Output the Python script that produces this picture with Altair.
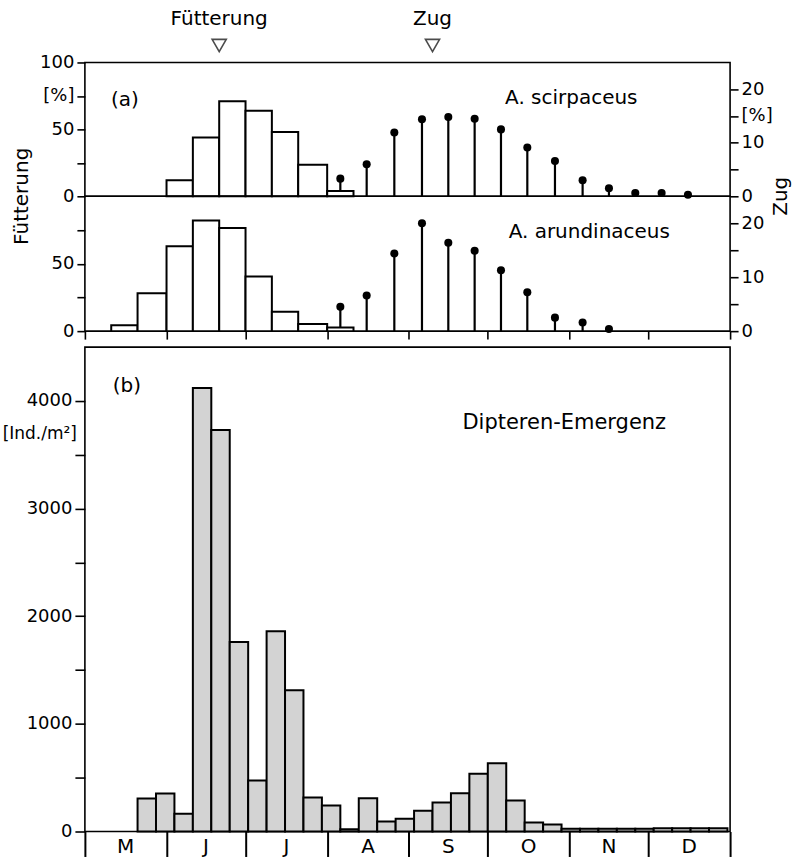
import altair as alt
import pandas as pd

FONT = "DejaVu Sans"

# ---------------- data ----------------
month_labels = ["M", "J", "J", "A", "S", "O", "N", "D"]
month_lengths = [31, 30, 31, 31, 30, 31, 30, 31]

# 10-day periods (Dekaden) May d1 ... Dec d3 (24 periods)
feed_scirpaceus = [0, 0, 0, 12, 44, 71, 64, 48, 23.5, 4] + [0] * 14
feed_arundinaceus = [0, 4.4, 28, 63, 82, 76.5, 40.6, 14.3, 5.2, 2.7] + [0] * 14
zug_scirpaceus = [None] * 9 + [3.3, 6.0, 11.9, 14.4, 14.8, 14.5, 12.5, 9.1, 6.6,
                               3.0, 1.5, 0.6, 0.6, 0.3] + [None]
zug_arundinaceus = [None] * 9 + [4.5, 6.6, 14.4, 20.0, 16.4, 14.9, 11.3, 7.2, 2.5,
                                 1.6, 0.4] + [None] * 4

# weekly Diptera emergence [Ind./m2], weeks starting 21 May
emergence_first_week = "1985-05-21"
emergence = [306, 353, 166, 4120, 3730, 1760, 474, 1860, 1312, 316,
             242, 20, 310, 93, 118, 193, 270, 356, 537, 635,
             288, 84, 65, 25, 25, 25, 25, 25, 30, 30, 30, 30]

marker_labels = ["Fütterung", "Zug"]
marker_dates = ["1985-06-21", "1985-09-10"]

# ---------------- derived tables ----------------
origin = pd.Timestamp("1985-05-01")
month_start = [0]
for n in month_lengths:
    month_start.append(month_start[-1] + n)
total_days = month_start[-1]

dec_rows = []
for m in range(8):
    for k in range(3):
        s = month_start[m] + 10 * k
        e = month_start[m] + 10 * (k + 1) if k < 2 else month_start[m + 1]
        dec_rows.append((s, e, (s + e) / 2))
dec = pd.DataFrame(dec_rows, columns=["start", "end", "mid"])

def feed_df(vals):
    d = dec.copy()
    d["v"] = vals
    return d[d["v"] > 0]

def zug_df(vals):
    d = dec.copy()
    d["z"] = vals
    return d.dropna(subset=["z"])

wk = pd.date_range(emergence_first_week, periods=len(emergence), freq="7D")
emg = pd.DataFrame({
    "start": [(d - origin).days for d in wk],
    "end": [(d - origin).days + 7 for d in wk],
    "n": emergence,
})

months = pd.DataFrame({
    "mid": [(month_start[i] + month_start[i + 1]) / 2 for i in range(8)],
    "m": month_labels,
})
markers = pd.DataFrame({
    "day": [(pd.Timestamp(d) - origin).days for d in marker_dates],
    "lab": marker_labels,
})

# ---------------- panels ----------------
W = 646
H1, H2, H3 = 134, 135, 485
xs = alt.Scale(domain=[0, total_days], nice=False, zero=False)

def txt(text, x, y, size=20, align="center", angle=0):
    return alt.Chart(pd.DataFrame({"t": [text]})).mark_text(
        font=FONT, fontSize=size, align=align, baseline="middle", angle=angle,
        color="black"
    ).encode(text="t:N", x=alt.value(x), y=alt.value(y))

def panel(feed, zug, name, height, xaxis, left_vals, top=False):
    fd = feed_df(feed)
    zd = zug_df(zug)
    if top:
        lexpr = "datum.value == 75 ? '[%]' : (datum.value % 50 == 0 ? datum.label : '')"
        rexpr = "datum.value == 15 ? '[%]' : (datum.value % 10 == 0 ? datum.label : '')"
    else:
        lexpr = "datum.value % 50 == 0 ? datum.label : ''"
        rexpr = "datum.value % 10 == 0 ? datum.label : ''"
    left_axis = alt.Axis(orient="left", values=left_vals, title=None, domain=False,
                         tickSize=8, labelPadding=3, labelExpr=lexpr)
    right_axis = alt.Axis(orient="right", values=[0, 5, 10, 15, 20], title=None,
                          domain=False, tickSize=8, labelPadding=3, labelExpr=rexpr)
    zscale = alt.Scale(domain=[0, 25], nice=False, zero=True)
    fscale = alt.Scale(domain=[0, 100], nice=False, zero=True)
    stems = alt.Chart(zd).mark_rule(color="black", strokeWidth=2.2).encode(
        x=alt.X("mid:Q", scale=xs, axis=xaxis),
        y=alt.Y("z:Q", scale=zscale, axis=right_axis),
        y2=alt.datum(0),
    )
    bars = alt.Chart(fd).mark_rect(fill="white", stroke="black", strokeWidth=2).encode(
        x=alt.X("start:Q", scale=xs, axis=xaxis),
        x2="end:Q",
        y=alt.Y("v:Q", scale=fscale, axis=left_axis),
        y2=alt.datum(0),
    )
    dots = alt.Chart(zd).mark_circle(color="black", size=65, opacity=1).encode(
        x=alt.X("mid:Q", scale=xs, axis=xaxis),
        y=alt.Y("z:Q", scale=zscale, axis=None),
    )
    layers = [stems, bars, dots, txt(name, 505 if not top else 487, 36)]
    if top:
        layers.append(txt("(a)", 40, 38))
        layers.append(txt("Fütterung", -63, height, angle=270))
        layers.append(txt("Zug", W + 51, height, angle=270))
        layers.append(alt.Chart(markers).mark_text(
            font=FONT, fontSize=20, baseline="middle", color="black"
        ).encode(x=alt.X("day:Q", scale=xs, axis=xaxis), y=alt.value(-44), text="lab:N"))
        layers.append(alt.Chart(markers).mark_point(
            shape="triangle-down", filled=False, color="black", size=200, strokeWidth=1.6
        ).encode(x=alt.X("day:Q", scale=xs, axis=xaxis), y=alt.value(-17)))
    return alt.layer(*layers).resolve_scale(y="independent").properties(
        width=W, height=height)

a_axis_top = None
a_axis_bottom = alt.Axis(orient="bottom", values=month_start, labels=False, domain=False,
                         tickSize=8, title=None, grid=False)

a1 = panel(feed_scirpaceus, zug_scirpaceus, "A. scirpaceus", H1, a_axis_top,
           [0, 25, 50, 75, 100], top=True)
a2 = panel(feed_arundinaceus, zug_arundinaceus, "A. arundinaceus", H2, a_axis_bottom,
           [0, 25, 50, 75])

b_xaxis = alt.Axis(orient="bottom", values=month_start, labels=False, domain=False,
                   tickSize=25, tickWidth=2, title=None, grid=False)
b_bars = alt.Chart(emg).mark_rect(fill="#d3d3d3", stroke="black", strokeWidth=2).encode(
    x=alt.X("start:Q", scale=xs, axis=b_xaxis),
    x2="end:Q",
    y=alt.Y("n:Q", scale=alt.Scale(domain=[0, 4500], nice=False),
            axis=alt.Axis(values=list(range(0, 4001, 500)), title=None, domain=False,
                          tickSize=10, labelPadding=3, format="d",
                          labelExpr="datum.value % 1000 == 0 ? datum.label : ''")),
    y2=alt.datum(0),
)
b_months = alt.Chart(months).mark_text(font=FONT, fontSize=20, baseline="middle",
                                       color="black").encode(
    x=alt.X("mid:Q", scale=xs, axis=b_xaxis), y=alt.value(H3 + 16), text="m:N")
b = alt.layer(
    b_bars, b_months,
    txt("(b)", 42, 39),
    txt("Dipteren-Emergenz", 480, 76, size=21),
    txt("[Ind./m²]", -8, 87, size=17, align="right"),
).properties(width=W, height=H3)

top = alt.vconcat(a1, a2, spacing=0, bounds="flush")
chart = alt.vconcat(top, b, spacing=5).properties(
    padding={"left": 1, "top": 7, "right": 8, "bottom": 4}
).configure_view(stroke="black", strokeWidth=1.6).configure_axis(
    labelFont=FONT, labelFontSize=18, labelColor="black", tickColor="black",
    tickWidth=1.6, grid=False
)

chart.save("out.html", embed_options={"renderer": "svg", "actions": False})
